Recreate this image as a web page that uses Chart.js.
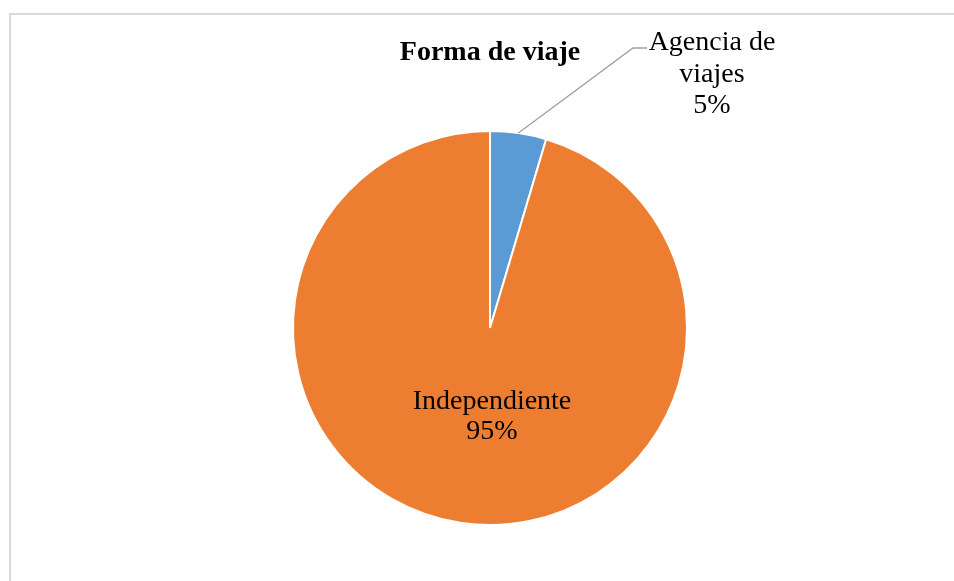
<!DOCTYPE html>
<html>
<head>
<meta charset="utf-8">
<script src="https://cdn.jsdelivr.net/npm/chart.js@4"></script>
<style>
  html, body { margin: 0; padding: 0; background: #fff; }
  #wrap { position: relative; width: 954px; height: 581px; overflow: hidden; }
  #frame {
    position: absolute; left: 9px; top: 13px; width: 1000px; height: 700px;
    border-top: 2px solid #d9d9d9; border-left: 2px solid #d9d9d9;
  }
  canvas { position: absolute; left: 0; top: 0; }
</style>
</head>
<body>
<div id="wrap">
  <div id="frame"></div>
  <canvas id="pieChart" width="954" height="581"></canvas>
</div>
<script>
// data
const chartTitle = 'Forma de viaje';
const categories = ['Agencia de viajes', 'Independiente'];
const shares = [4.6, 95.4];
const sliceColors = ['#5B9BD5', '#ED7D31'];

const serif = '"Liberation Serif", "Times New Roman", serif';

function pctLabel(i) {
    const total = shares.reduce((a, b) => a + b, 0);
    return Math.round(shares[i] / total * 100) + '%';
}

// labels + leader line drawn after the arcs
const sliceLabels = {
    id: 'sliceLabels',
    afterDatasetsDraw(chart) {
        const ctx = chart.ctx;
        const arcs = chart.getDatasetMeta(0).data;
        ctx.save();
        ctx.font = '28px ' + serif;
        ctx.fillStyle = '#000';
        ctx.textAlign = 'center';
        ctx.textBaseline = 'alphabetic';

        // small slice: outside label with leader
        const a = arcs[0];
        const cx = a.x, cy = a.y, r = a.outerRadius;
        const mid = (a.startAngle + a.endAngle) / 2;
        const sx = cx + Math.cos(mid) * r;
        const sy = cy + Math.sin(mid) * r;
        ctx.strokeStyle = '#a0a0a0';
        ctx.lineWidth = 1.3;
        ctx.beginPath();
        ctx.moveTo(sx, sy);
        ctx.lineTo(cx + 143, cy - 280);
        ctx.lineTo(cx + 157, cy - 280);
        ctx.stroke();
        ctx.fillText('Agencia de', cx + 222, cy - 278);
        ctx.fillText('viajes', cx + 222, cy - 246);
        ctx.fillText(pctLabel(0), cx + 222, cy - 215);

        // big slice: label inside
        const b = arcs[1];
        ctx.fillText(categories[1], b.x + 2, b.y + 81);
        ctx.fillText(pctLabel(1), b.x + 2, b.y + 111);
        ctx.restore();
    }
};

const ctx = document.getElementById('pieChart').getContext('2d');
new Chart(ctx, {
    type: 'pie',
    data: {
        labels: categories,
        datasets: [{
            data: shares,
            backgroundColor: sliceColors,
            borderColor: '#ffffff',
            borderWidth: 2
        }]
    },
    options: {
        responsive: false,
        animation: false,
        layout: {
            padding: { left: 26, right: 0, top: 36, bottom: 55 }
        },
        plugins: {
            legend: { display: false },
            tooltip: { enabled: false },
            title: {
                display: true,
                text: chartTitle,
                color: '#000',
                font: { family: serif, size: 28, weight: 'bold', lineHeight: 1.2 },
                padding: { top: 0, bottom: 60.4 }
            }
        }
    },
    plugins: [sliceLabels]
});
</script>
</body>
</html>
